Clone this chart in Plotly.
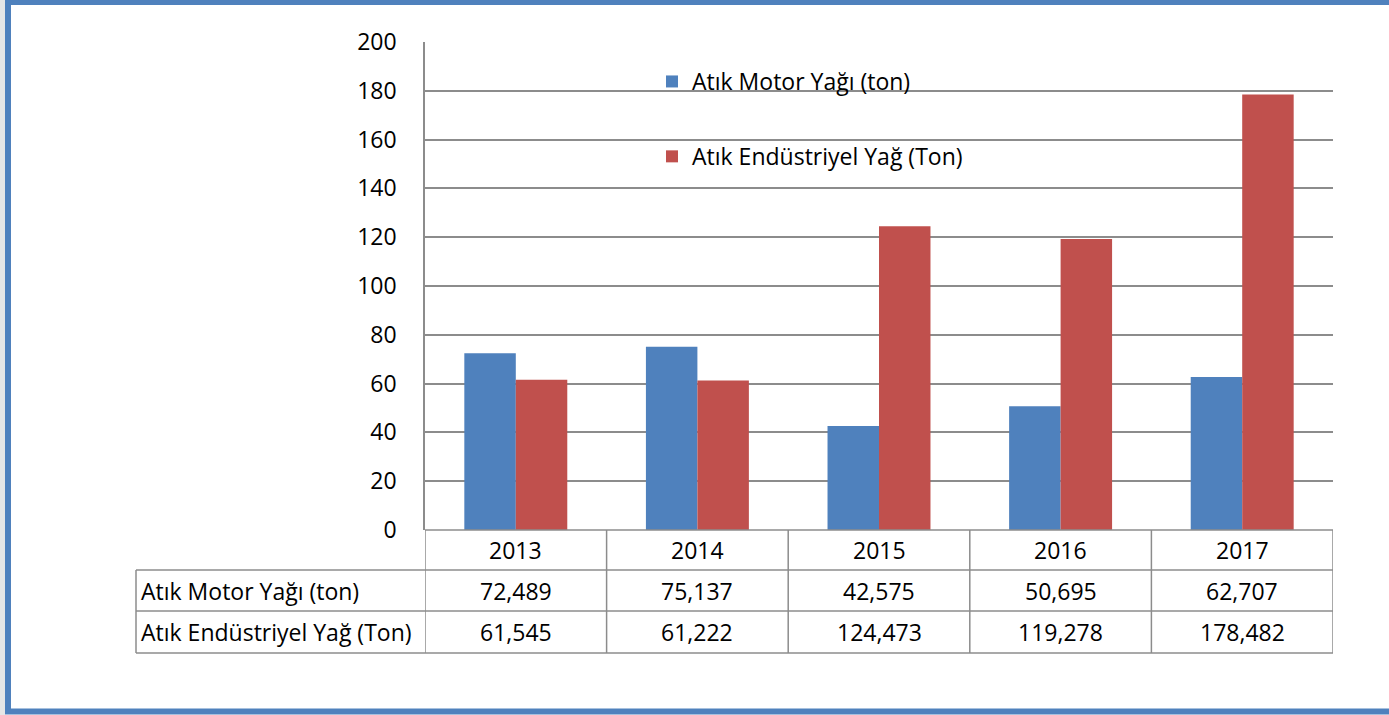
import plotly.graph_objects as go

years = ["2013", "2014", "2015", "2016", "2017"]
motor = [72.489, 75.137, 42.575, 50.695, 62.707]
endustri = [61.545, 61.222, 124.473, 119.278, 178.482]
series_names = ["Atık Motor Yağı (ton)", "Atık Endüstriyel Yağ (Ton)"]
y_ticks = [0, 20, 40, 60, 80, 100, 120, 140, 160, 180, 200]

W, H = 1389, 715
L, R, T, B = 425, 1333, 42, 530
FONT = "Open Sans"
FS = 23
GRID = "#8c8c8c"

def xp(px):
    return (px - L) / (R - L)

def yp(py):
    return (B - py) / (B - T)

def fmt(v):
    return f"{v:.3f}".replace(".", ",")

fig = go.Figure()
fig.add_trace(go.Bar(x=years, y=motor, name=series_names[0], marker_color="#4F81BD",
                     marker_line_width=0, legendgroup="a"))
fig.add_trace(go.Bar(x=years, y=endustri, name=series_names[1], marker_color="#C0504D",
                     marker_line_width=0, legendgroup="b"))

shapes = []
# page border
shapes.append(dict(type="rect", xref="paper", yref="paper", x0=xp(0), x1=xp(5), y0=yp(715), y1=yp(0),
                   fillcolor="#e6e6e6", line_width=0, layer="below"))
shapes.append(dict(type="rect", xref="paper", yref="paper", x0=xp(8), x1=xp(1420), y0=yp(711.5), y1=yp(2),
                   line=dict(color="#4F81BD", width=6), fillcolor="rgba(0,0,0,0)"))

# table lines
rows_y = [530, 570, 611, 653]
for i, ry in enumerate(rows_y):
    x0 = L if i == 0 else 136
    shapes.append(dict(type="line", xref="paper", yref="paper", x0=xp(x0), x1=xp(R), y0=yp(ry), y1=yp(ry),
                       line=dict(color=GRID, width=1.5)))
for k in range(len(years) + 1):
    shapes.append(dict(type="line", xref="x", yref="paper", x0=k - 0.5, x1=k - 0.5, y0=yp(530), y1=yp(653),
                       line=dict(color=GRID, width=1.5)))
shapes.append(dict(type="line", xref="paper", yref="paper", x0=xp(136), x1=xp(136), y0=yp(570), y1=yp(653),
                   line=dict(color=GRID, width=1.5)))

annotations = []
row_centers = [550, 591, 632]
tf = dict(family=FONT, size=FS, color="#000")
for i, yr in enumerate(years):
    annotations.append(dict(x=i, xref="x", y=yp(row_centers[0]), yref="paper", text=yr, showarrow=False,
                            font=tf, xanchor="center", yanchor="middle"))
    annotations.append(dict(x=i, xref="x", y=yp(row_centers[1]), yref="paper", text=fmt(motor[i]), showarrow=False,
                            font=tf, xanchor="center", yanchor="middle"))
    annotations.append(dict(x=i, xref="x", y=yp(row_centers[2]), yref="paper", text=fmt(endustri[i]), showarrow=False,
                            font=tf, xanchor="center", yanchor="middle"))
for j, nm in enumerate(series_names):
    annotations.append(dict(x=xp(139), xref="paper", y=yp(row_centers[j + 1]), yref="paper", text=nm, showarrow=False,
                            font=tf, xanchor="left", yanchor="middle"))

fig.update_layout(
    width=W, height=H,
    margin=dict(l=L, r=W - R, t=T, b=H - B, pad=0),
    paper_bgcolor="white", plot_bgcolor="white",
    barmode="group", bargap=0.433, bargroupgap=0,
    font=tf,
    showlegend=True,
    legend=dict(x=xp(652), y=yp(60), xanchor="left", yanchor="top", bgcolor="rgba(0,0,0,0)",
                font=tf, tracegroupgap=42,
                traceorder="grouped", itemwidth=30),
    xaxis=dict(type="category", range=[-0.5, 4.5], showticklabels=False, showgrid=False,
               showline=False, zeroline=False, ticks=""),
    yaxis=dict(range=[0, 200], tickvals=y_ticks, showgrid=True, gridcolor=GRID, gridwidth=1.5,
               showline=True, linecolor=GRID, linewidth=1.5, zeroline=False, ticks="",
               ticklabelstandoff=22, tickfont=tf),
    shapes=shapes, annotations=annotations,
)

fig.write_html("out.html", config={"displayModeBar": False},
               post_script="document.body.style.margin='0';document.body.style.overflow='hidden';")
